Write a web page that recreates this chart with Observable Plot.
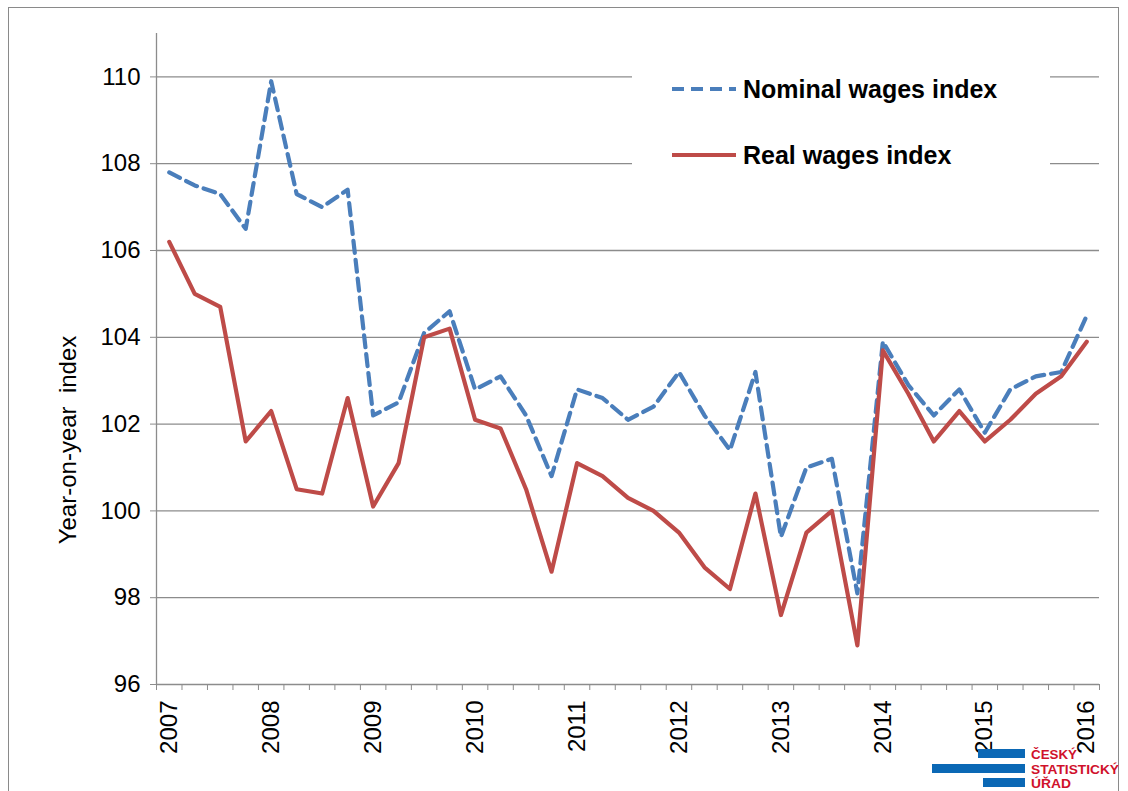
<!DOCTYPE html>
<html>
<head>
<meta charset="utf-8">
<script src="https://cdn.jsdelivr.net/npm/d3@7"></script>
<script src="https://cdn.jsdelivr.net/npm/@observablehq/plot@0.6"></script>
<style>
  body { margin: 0; background: #fff; }
  #wrap { position: relative; width: 1128px; height: 791px; overflow: hidden; font-family: "Liberation Sans", Arial, sans-serif; }
  #frame { position: absolute; left: 8px; top: 7px; width: 1111px; height: 800px; border: 1px solid #8a8a8a; box-sizing: border-box; pointer-events: none; }
  #ytitle { position: absolute; left: 68px; top: 440px; transform: translate(-50%, -50%) rotate(-90deg); white-space: pre; font-size: 24px; color: #000; }
  #legend { position: absolute; left: 632px; top: 50px; width: 418px; height: 140px; background: #fff; }
  .lg { position: absolute; left: 40px; height: 30px; display: flex; align-items: center; font-weight: bold; font-size: 25px; color: #000; }
  .lg svg { margin-right: 7px; }
  #logo { position: absolute; left: 0; top: 0; }
</style>
</head>
<body>
<div id="wrap">
  <div id="chart"></div>
  <div id="ytitle"></div>
  <div id="legend"></div>
  <div id="frame"></div>
</div>
<script>
// ---- data ----
const quarters = [
  "2007Q1","2007Q2","2007Q3","2007Q4",
  "2008Q1","2008Q2","2008Q3","2008Q4",
  "2009Q1","2009Q2","2009Q3","2009Q4",
  "2010Q1","2010Q2","2010Q3","2010Q4",
  "2011Q1","2011Q2","2011Q3","2011Q4",
  "2012Q1","2012Q2","2012Q3","2012Q4",
  "2013Q1","2013Q2","2013Q3","2013Q4",
  "2014Q1","2014Q2","2014Q3","2014Q4",
  "2015Q1","2015Q2","2015Q3","2015Q4",
  "2016Q1"
];
const nominalWages = [
  107.8, 107.5, 107.3, 106.5,
  109.9, 107.3, 107.0, 107.4,
  102.2, 102.5, 104.1, 104.6,
  102.8, 103.1, 102.2, 100.8,
  102.8, 102.6, 102.1, 102.4,
  103.2, 102.2, 101.4, 103.2,
  99.4, 101.0, 101.2, 98.1,
  103.9, 102.9, 102.2, 102.8,
  101.8, 102.8, 103.1, 103.2,
  104.5
];
const realWages = [
  106.2, 105.0, 104.7, 101.6,
  102.3, 100.5, 100.4, 102.6,
  100.1, 101.1, 104.0, 104.2,
  102.1, 101.9, 100.5, 98.6,
  101.1, 100.8, 100.3, 100.0,
  99.5, 98.7, 98.2, 100.4,
  97.6, 99.5, 100.0, 96.9,
  103.7, 102.7, 101.6, 102.3,
  101.6, 102.1, 102.7, 103.1,
  103.9
];
const yTickValues = [96, 98, 100, 102, 104, 106, 108, 110];
const seriesNames = ["Nominal wages index", "Real wages index"];
const seriesColors = ["#4a7ebb", "#be4b48"];
const yTitle = "Year-on-year  index";
const logoLines = ["ČESKÝ", "STATISTICKÝ", "ÚŘAD"];

// ---- derived table ----
const rows = quarters.map((q, i) => ({ i, q, nominal: nominalWages[i], real: realWages[i] }));
const boundaries = d3.range(quarters.length + 1);
const yearTicks = quarters.map((q, i) => i).filter(i => quarters[i].endsWith("Q1"));
const pos = i => i + 0.5;
const axisColor = "#8c8c8c";

const chart = Plot.plot({
  width: 1128,
  height: 791,
  marginLeft: 156,
  marginRight: 29,
  marginTop: 33,
  marginBottom: 107,
  style: { fontFamily: "Liberation Sans, Arial, sans-serif", fontSize: "24px", color: "#000", background: "transparent", overflow: "visible" },
  x: { domain: [0, quarters.length], axis: null },
  y: { domain: [96, 111], axis: null },
  marks: [
    Plot.ruleY(yTickValues, { stroke: axisColor, strokeWidth: 1.3 }),
    Plot.ruleX([0], { stroke: axisColor, strokeWidth: 1.3 }),
    Plot.axisY({ ticks: yTickValues, tickSize: 6, tickPadding: 10, stroke: axisColor, fill: "#000", fontSize: 24, label: null, tickFormat: d => String(d) }),
    Plot.axisX({ ticks: boundaries, tickSize: 6, tickFormat: () => "", stroke: axisColor, label: null }),
    Plot.axisX({ ticks: yearTicks.map(pos), tickSize: 0, tickPadding: 16, tickRotate: -90, fill: "#000", fontSize: 24, label: null,
      tickFormat: d => quarters[Math.floor(d)].slice(0, 4) }),
    Plot.lineY(rows, { x: d => pos(d.i), y: "nominal", stroke: seriesColors[0], strokeWidth: 4.2, strokeDasharray: "12 7", strokeLinejoin: "round" }),
    Plot.lineY(rows, { x: d => pos(d.i), y: "real", stroke: seriesColors[1], strokeWidth: 4.2, strokeLinejoin: "round" })
  ]
});
document.getElementById("chart").appendChild(chart);

document.getElementById("ytitle").textContent = yTitle;

// legend
const legend = document.getElementById("legend");
seriesNames.forEach((name, k) => {
  const item = document.createElement("div");
  item.className = "lg";
  item.style.top = (k === 0 ? 24 : 90) + "px";
  const dash = k === 0 ? 'stroke-dasharray="12 7"' : "";
  item.innerHTML = `<svg width="64" height="10"><line x1="0" y1="5" x2="64" y2="5" stroke="${seriesColors[k]}" stroke-width="4" ${dash}/></svg><span>${name}</span>`;
  legend.appendChild(item);
});

// logo
const svgNS = "http://www.w3.org/2000/svg";
const logo = document.createElementNS(svgNS, "svg");
logo.setAttribute("id", "logo");
logo.setAttribute("width", 1128);
logo.setAttribute("height", 791);
const bars = [[978, 749, 47, 9], [932, 764, 93, 9], [983, 778, 42, 9]];
const textWidths = [46, 88, 40];
bars.forEach(([x, y, w, h], k) => {
  const r = document.createElementNS(svgNS, "rect");
  r.setAttribute("x", x); r.setAttribute("y", y); r.setAttribute("width", w); r.setAttribute("height", h);
  r.setAttribute("fill", "#0b68b5");
  logo.appendChild(r);
  const t = document.createElementNS(svgNS, "text");
  t.setAttribute("x", 1031); t.setAttribute("y", y + 9.5);
  t.setAttribute("fill", "#d0112b");
  t.setAttribute("font-weight", "bold");
  t.setAttribute("font-size", 13);
  t.setAttribute("textLength", textWidths[k]);
  t.setAttribute("lengthAdjust", "spacingAndGlyphs");
  t.setAttribute("font-family", "Liberation Sans, Arial, sans-serif");
  t.textContent = logoLines[k];
  logo.appendChild(t);
});
document.getElementById("wrap").appendChild(logo);
</script>
</body>
</html>
